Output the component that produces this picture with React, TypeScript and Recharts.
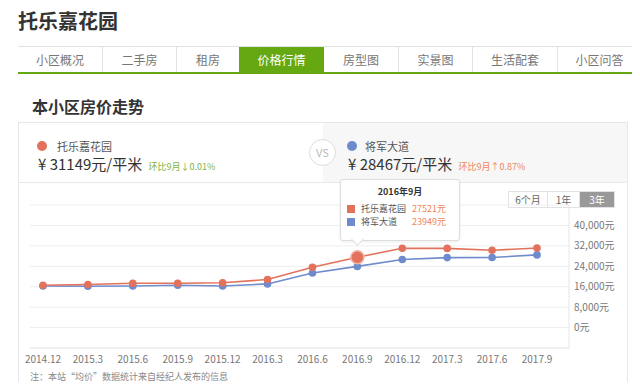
import { LineChart, Line, XAxis, YAxis, CartesianGrid } from 'recharts';

const months = ['2014.12', '2015.3', '2015.6', '2015.9', '2015.12', '2016.3', '2016.6', '2016.9', '2016.12', '2017.3', '2017.6', '2017.9'];
const tuoleValues = [16600, 16850, 17350, 17350, 17550, 18800, 23600, 27521, 31050, 31000, 30300, 31149];
const jiangjunValues = [16300, 16200, 16300, 16550, 16300, 17100, 21400, 23949, 26650, 27400, 27450, 28467];
const yTicks = [0, 8000, 16000, 24000, 32000, 40000];
const tabs = ['小区概况', '二手房', '租房', '价格行情', '房型图', '实景图', '生活配套', '小区问答'];
const tabWidths = [84, 74, 63, 85, 74, 74, 85, 84];
const activeTab = 3;
const activeIndex = 7;
const tooltipTitle = '2016年9月';
const ranges = ['6个月', '1年', '3年'];

const RED = '#e2725b';
const BLUE = '#6e8bcd';
const FONT = '"Noto Sans CJK SC", "Noto Sans", sans-serif';

const data = months.map((m, i) => ({ month: m, tuole: tuoleValues[i], jiangjun: jiangjunValues[i] }));

const makeDot = (color: string, big: boolean) => (props: any) => {
  const { cx, cy, index } = props;
  if (big && index === activeIndex) {
    return <circle key={index} cx={cx} cy={cy} r={6.5} fill={color} stroke="#f3b3a5" strokeWidth={1.5} />;
  }
  return <circle key={index} cx={cx} cy={cy} r={3.8} fill={color} />;
};

const fmt = (v: number) => `${v.toLocaleString('en-US')}元`;

export default function App() {
  return (
    <div style={{ position: 'relative', width: 640, height: 390, background: '#fff', fontFamily: FONT, overflow: 'hidden', margin: -8 }}>
      <div style={{ position: 'absolute', left: 18, top: 6, fontSize: 20, fontWeight: 700, color: '#333' }}>托乐嘉花园</div>

      {/* tabs */}
      <div style={{ position: 'absolute', left: 18, top: 46, width: 640, height: 25, borderTop: '1px solid #e2e2e2', borderBottom: '2px solid #65a812', display: 'flex' }}>
        {tabs.map((t, i) => (
          <div key={t} style={{
            width: tabWidths[i], boxSizing: 'border-box', textAlign: 'center', lineHeight: '25px', fontSize: 12,
            color: i === activeTab ? '#fff' : '#777', background: i === activeTab ? '#65a812' : '#fff',
            borderLeft: i === 0 || i === activeTab || i === activeTab + 1 ? 'none' : '1px solid #e2e2e2',
          }}>{t}</div>
        ))}
      </div>

      <div style={{ position: 'absolute', left: 32, top: 94, fontSize: 16, fontWeight: 700, color: '#333' }}>本小区房价走势</div>

      {/* card */}
      <div style={{ position: 'absolute', left: 18, top: 122, width: 608, height: 280, border: '1px solid #e8e8e8' }} />
      <div style={{ position: 'absolute', left: 323, top: 123, width: 304, height: 59, background: '#f7f7f7' }} />
      <div style={{ position: 'absolute', left: 19, top: 182, width: 607, height: 1, background: '#e8e8e8' }} />
      <div style={{ position: 'absolute', left: 309, top: 139, width: 25, height: 25, borderRadius: '50%', border: '1px solid #ddd', background: '#fff', color: '#bbb', fontSize: 11, lineHeight: '25px', textAlign: 'center' }}>VS</div>

      <div style={{ position: 'absolute', left: 37, top: 141, width: 10, height: 10, borderRadius: '50%', background: RED }} />
      <div style={{ position: 'absolute', left: 57, top: 138, fontSize: 11, color: '#555' }}>托乐嘉花园</div>
      <div style={{ position: 'absolute', left: 38, top: 153, fontSize: 15, color: '#333', whiteSpace: 'nowrap' }}>
        ¥ 31149元/平米 <span style={{ fontSize: 9, color: '#7cb342', marginLeft: 3 }}>环比9月↓0.01%</span>
      </div>

      <div style={{ position: 'absolute', left: 347, top: 141, width: 10, height: 10, borderRadius: '50%', background: BLUE }} />
      <div style={{ position: 'absolute', left: 365, top: 138, fontSize: 11, color: '#555' }}>将军大道</div>
      <div style={{ position: 'absolute', left: 348, top: 153, fontSize: 15, color: '#333', whiteSpace: 'nowrap' }}>
        ¥ 28467元/平米 <span style={{ fontSize: 9, color: '#f0855a', marginLeft: 3 }}>环比9月↑0.87%</span>
      </div>

      {/* range buttons */}
      <div style={{ position: 'absolute', left: 508, top: 191, display: 'flex', border: '1px solid #e2e2e2' }}>
        {ranges.map((r, i) => (
          <div key={r} style={{
            width: [38, 31, 34][i], height: 15, lineHeight: '15px', textAlign: 'center', fontSize: 10,
            color: i === 2 ? '#fff' : '#666', background: i === 2 ? '#999' : '#fff',
            borderLeft: i === 0 ? 'none' : '1px solid #e2e2e2',
          }}>{r}</div>
        ))}
      </div>

      <div style={{ position: 'absolute', left: 0, top: 190 }}>
        <LineChart width={640} height={200} data={data} margin={{ top: 15, right: 11, bottom: 12, left: 30 }}>
          <CartesianGrid horizontal vertical={false} stroke="#eeeeee" />
          <XAxis dataKey="month" interval={0} padding={{ left: 13, right: 32 }} axisLine={{ stroke: '#e6e6e6' }} tickLine={false} tickSize={2} tickMargin={6} tick={{ fontSize: 10, fill: '#777', fontFamily: FONT }} height={30} />
          <YAxis orientation="right" domain={[-8000, 48000]} ticks={yTicks} interval={0} width={60} axisLine={{ stroke: '#e6e6e6' }} tickLine={false} tickSize={0} tickMargin={5}
            tick={{ fontSize: 10, fill: '#777', fontFamily: FONT, textAnchor: 'start' }} tickFormatter={fmt} />
          <Line dataKey="jiangjun" stroke={BLUE} strokeWidth={1.6} dot={makeDot(BLUE, false)} isAnimationActive={false} />
          <Line dataKey="tuole" stroke={RED} strokeWidth={1.6} dot={makeDot(RED, true)} isAnimationActive={false} />
        </LineChart>
      </div>

      {/* tooltip */}
      <div style={{ position: 'absolute', left: 340, top: 179, width: 118, height: 60, background: '#fff', border: '1px solid #ddd', borderRadius: 3, boxShadow: '0 1px 3px rgba(0,0,0,0.08)' }}>
        <div style={{ textAlign: 'center', fontSize: 9, fontWeight: 700, color: '#333', marginTop: 5 }}>{tooltipTitle}</div>
        <div style={{ position: 'absolute', left: 6, top: 25, width: 8, height: 8, background: RED }} />
        <div style={{ position: 'absolute', left: 20, top: 22, fontSize: 9, color: '#555' }}>托乐嘉花园</div>
        <div style={{ position: 'absolute', left: 71, top: 22, fontSize: 9, color: '#f0855a' }}>{tuoleValues[activeIndex]}元</div>
        <div style={{ position: 'absolute', left: 6, top: 38, width: 8, height: 8, background: BLUE }} />
        <div style={{ position: 'absolute', left: 20, top: 35, fontSize: 9, color: '#555' }}>将军大道</div>
        <div style={{ position: 'absolute', left: 71, top: 35, fontSize: 9, color: '#f0855a' }}>{jiangjunValues[activeIndex]}元</div>
        <div style={{ position: 'absolute', left: 12, top: 55, width: 8, height: 8, background: '#fff', borderRight: '1px solid #ddd', borderBottom: '1px solid #ddd', transform: 'rotate(45deg)' }} />
      </div>

      <div style={{ position: 'absolute', left: 30, top: 371, fontSize: 9, lineHeight: '12px', color: '#888', whiteSpace: 'nowrap' }}>注：本站“均价”数据统计来自经纪人发布的信息</div>
    </div>
  );
}
